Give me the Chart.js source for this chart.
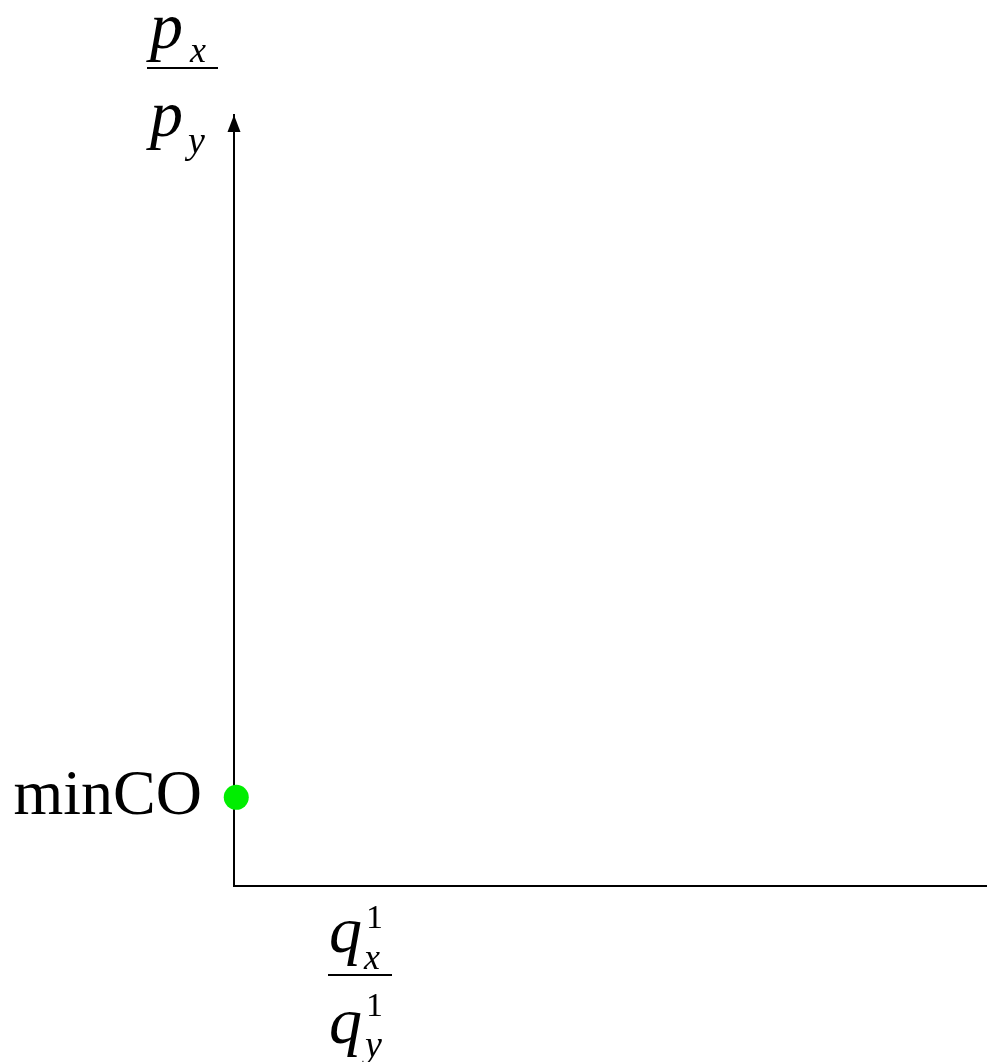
<!DOCTYPE html>
<html>
<head>
<meta charset="utf-8">
<title>minCO</title>
<script src="https://cdn.jsdelivr.net/npm/chart.js@4/dist/chart.umd.min.js"></script>
<style>
  html, body { margin: 0; padding: 0; background: #ffffff; }
  #wrap { width: 987px; height: 1062px; }
</style>
</head>
<body>
<div id="wrap"><canvas id="c" width="987" height="1062"></canvas></div>
<script>
// Marked point on the vertical axis
const pointLabels = ['minCO'];
const pointX = [0.03];
const pointY = [1.15];

// Axis extents
const xRange = [0, 10];
const yRange = [0, 10];

const serif = "'Liberation Serif', 'Times New Roman', serif";

// Arrowhead at the top of the vertical axis and the two fraction axis titles
const axisDecor = {
  id: 'axisDecor',
  afterDraw(chart) {
    const ctx = chart.ctx;
    const a = chart.chartArea;
    ctx.save();
    ctx.fillStyle = '#000';
    ctx.strokeStyle = '#000';

    // arrowhead
    const ax = a.left;
    ctx.beginPath();
    ctx.moveTo(ax, a.top);
    ctx.lineTo(ax - 6.5, a.top + 17);
    ctx.lineTo(ax + 6.5, a.top + 17);
    ctx.closePath();
    ctx.fill();

    ctx.textAlign = 'left';
    ctx.textBaseline = 'alphabetic';

    // y title: p_x / p_y
    ctx.font = 'italic 66px ' + serif;
    ctx.fillText('p', 150, 48);
    ctx.fillText('p', 150, 136);
    ctx.font = 'italic 36px ' + serif;
    ctx.fillText('x', 190, 62);
    ctx.font = 'italic 38px ' + serif;
    ctx.fillText('y', 188, 153);
    ctx.lineWidth = 2;
    ctx.beginPath();
    ctx.moveTo(147, 68);
    ctx.lineTo(218, 68);
    ctx.stroke();

    // x title: q^1_x / q^1_y
    ctx.font = 'italic 66px ' + serif;
    ctx.fillText('q', 329, 952);
    ctx.fillText('q', 329, 1043);
    ctx.font = '34px ' + serif;
    ctx.fillText('1', 366, 928);
    ctx.fillText('1', 366, 1016);
    ctx.font = 'italic 36px ' + serif;
    ctx.fillText('x', 364, 969);
    ctx.font = 'italic 38px ' + serif;
    ctx.fillText('y', 365, 1057);
    ctx.beginPath();
    ctx.moveTo(328, 975);
    ctx.lineTo(392, 975);
    ctx.stroke();

    ctx.restore();
  }
};

new Chart(document.getElementById('c'), {
  type: 'scatter',
  data: {
    datasets: [{
      data: pointX.map((x, i) => ({ x: x, y: pointY[i] })),
      backgroundColor: '#00ee00',
      borderColor: '#00ee00',
      pointRadius: 12.5,
      pointHoverRadius: 12.5,
      borderWidth: 0,
      clip: false
    }]
  },
  options: {
    responsive: false,
    animation: false,
    events: [],
    layout: { autoPadding: false, padding: { top: 115, right: 0, left: 0, bottom: 0 } },
    plugins: { legend: { display: false }, tooltip: { enabled: false } },
    scales: {
      x: {
        type: 'linear',
        min: xRange[0],
        max: xRange[1],
        grid: { display: false, drawTicks: false },
        border: { display: true, color: '#000', width: 2 },
        ticks: { display: false },
        afterFit(scale) { scale.height = 176; }
      },
      y: {
        type: 'linear',
        min: yRange[0],
        max: yRange[1],
        grid: { display: false, drawTicks: false },
        border: { display: true, color: '#000', width: 2 },
        afterBuildTicks(scale) {
          scale.ticks = pointY.map(v => ({ value: v }));
        },
        ticks: {
          padding: 32,
          color: '#000',
          font: { family: serif, size: 64 },
          callback: (v, i) => pointLabels[i]
        },
        afterFit(scale) { scale.width = 234; }
      }
    }
  },
  plugins: [axisDecor]
});
</script>
</body>
</html>
